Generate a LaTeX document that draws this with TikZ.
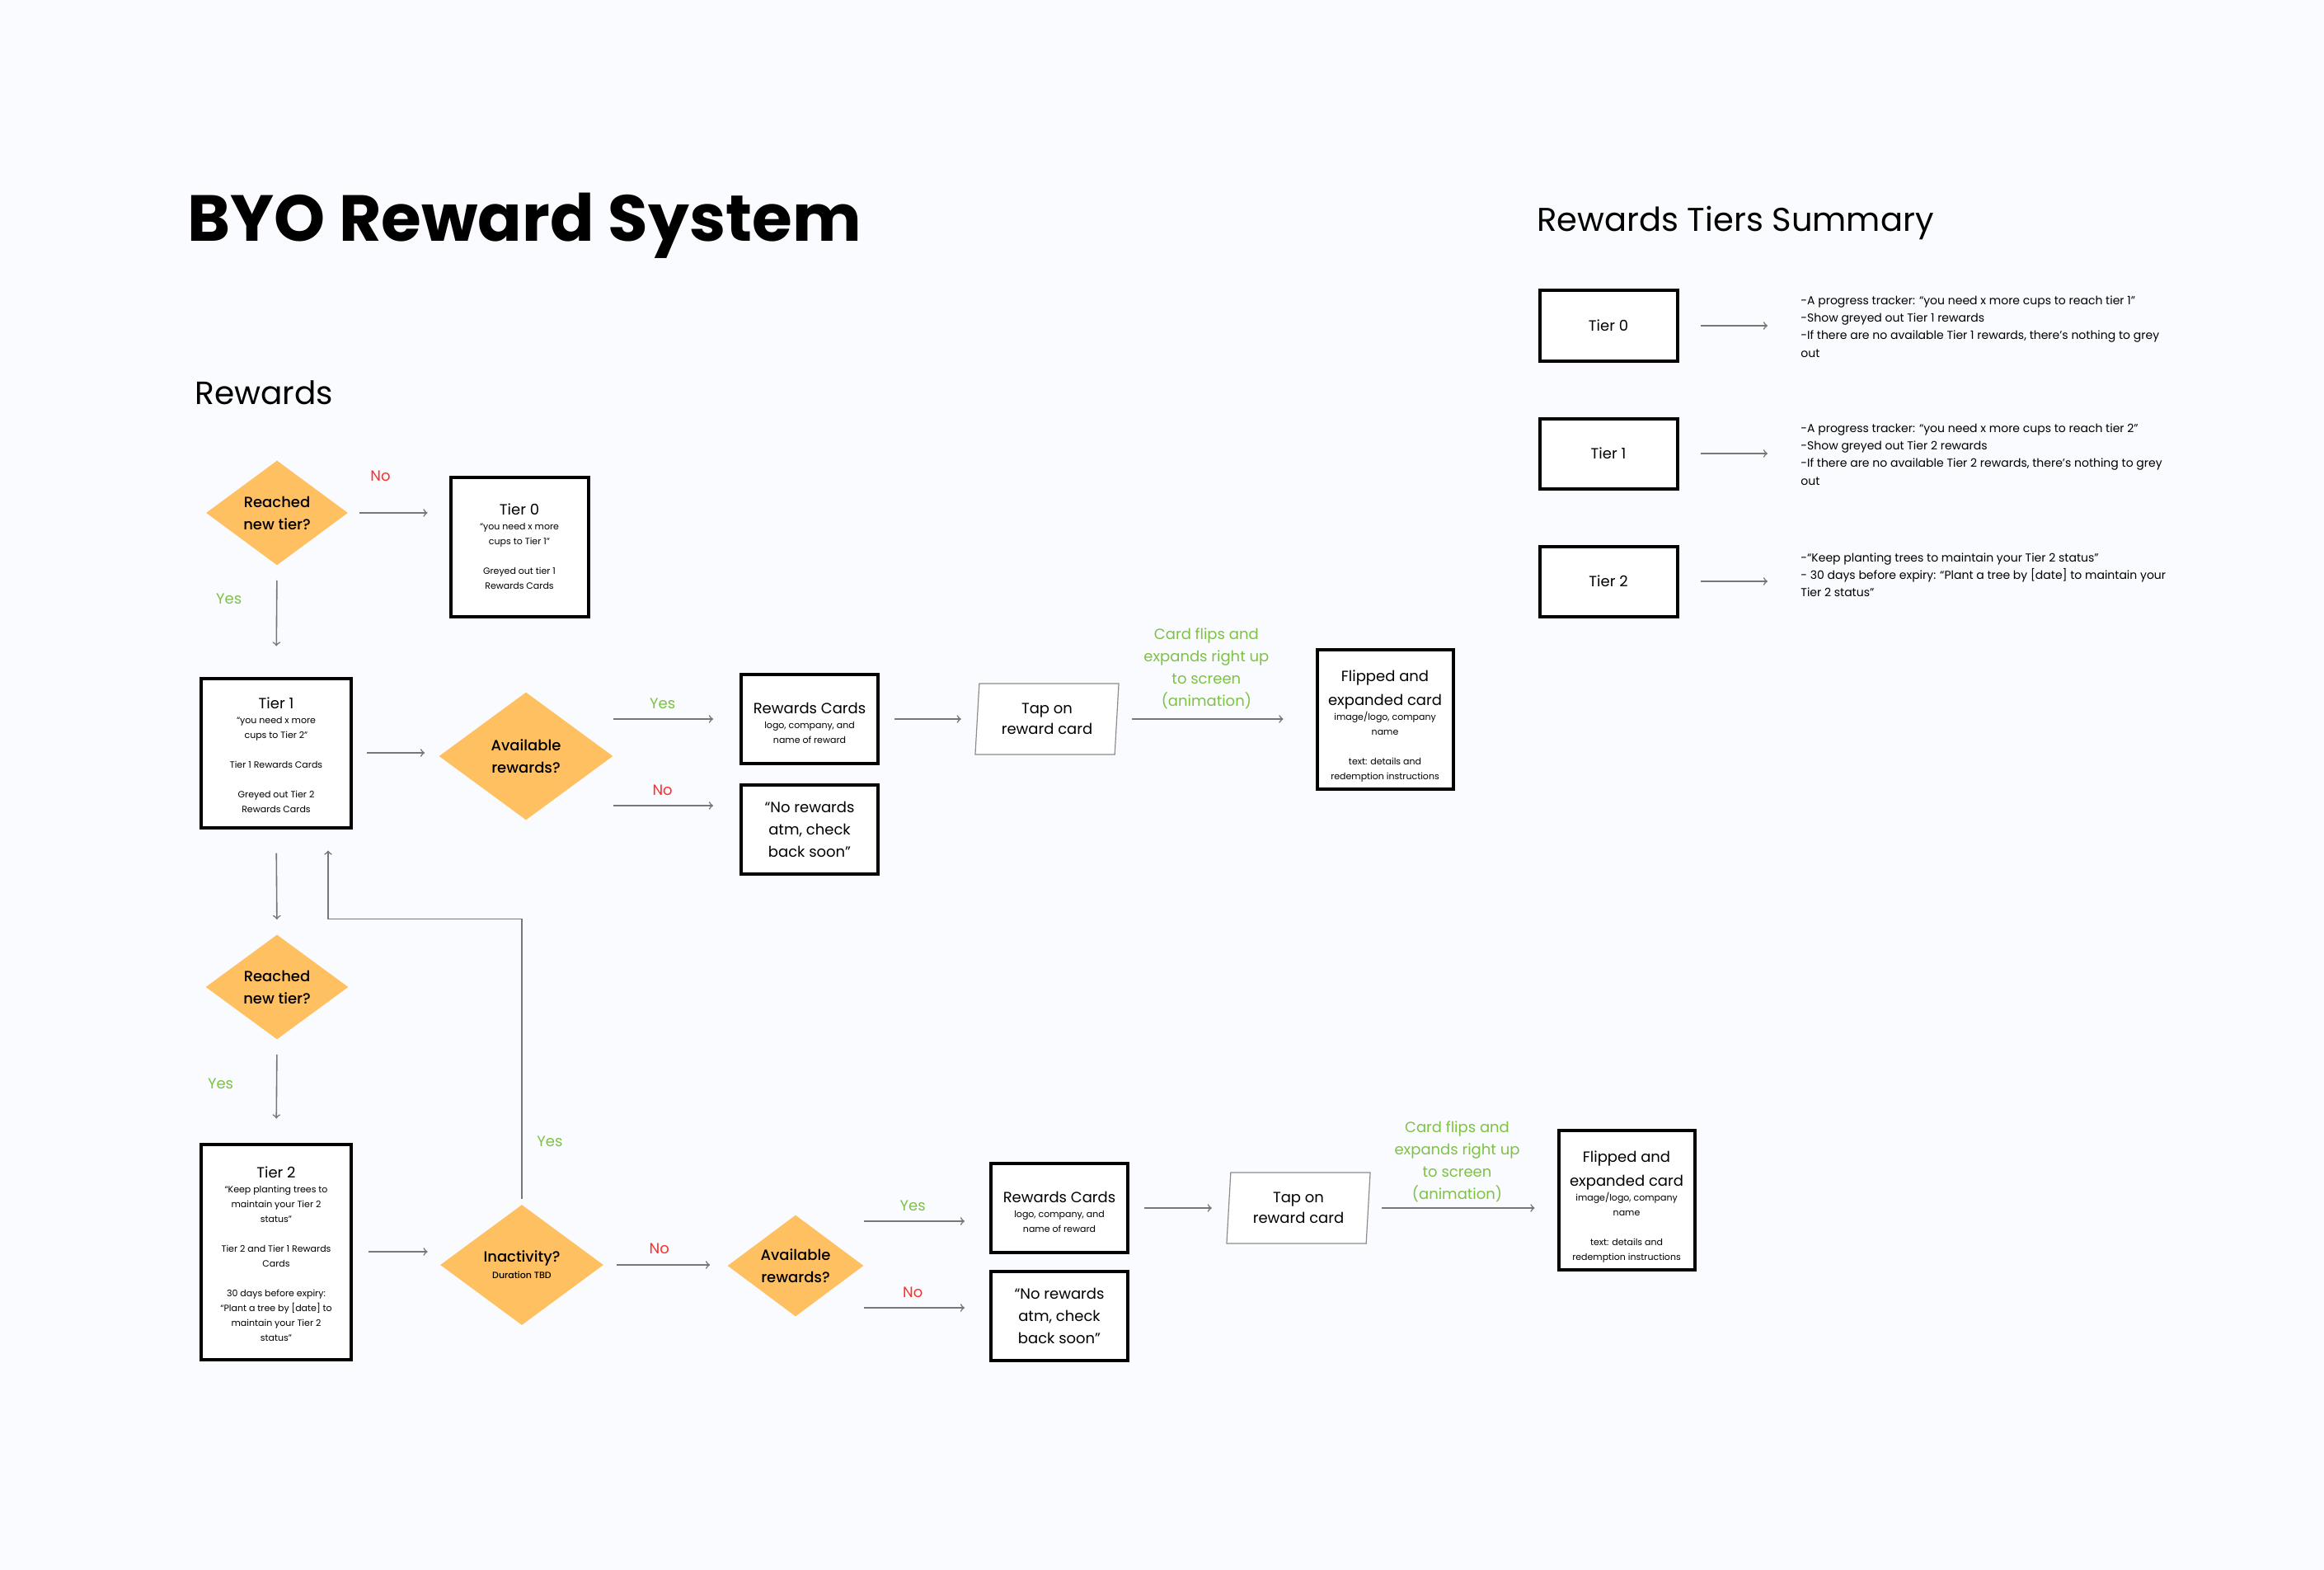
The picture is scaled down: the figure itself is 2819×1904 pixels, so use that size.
\documentclass[tikz,border=0pt]{standalone}
\usepackage{fontspec}
\setmainfont{Poppins}
\newfontfamily\medfont{Poppins Medium}
\usetikzlibrary{arrows, positioning, shapes.geometric, calc}
\definecolor{paper}{HTML}{FAFBFE}
\definecolor{tierorange}{HTML}{FFC062}
\definecolor{yesgreen}{HTML}{7DC243}
\definecolor{nored}{HTML}{FF2D2D}
\definecolor{linegrey}{HTML}{777777}
\definecolor{cardgrey}{HTML}{8C8C8C}
\newcommand{\smalltxt}{\fontsize{5.5}{9}\selectfont}
\tikzset{%
	tierbox/.style={draw, line width=2pt, fill=white, inner sep=0pt, align=flush center,
		text width=80pt, font=\fontsize{9}{13.5}\selectfont},
	rewardcard/.style={tierbox, minimum width=83pt, minimum height=54pt},
	flipcard/.style={tierbox, minimum width=82.5pt, minimum height=84.5pt},
	sumbox/.style={tierbox, minimum width=83.5pt, minimum height=42.5pt},
	tapcard/.style={trapezium, trapezium left angle=85, trapezium right angle=95,
		trapezium stretches=true, draw=cardgrey, line width=0.6pt, fill=white,
		minimum width=87.5pt, minimum height=43pt, inner sep=0pt, align=center,
		font=\fontsize{9}{12.5}\selectfont},
	decision/.style={diamond, aspect=1.35, fill=tierorange, inner sep=0pt, align=center,
		font=\medfont\fontsize{9}{13.5}\selectfont},
	flow/.style={->, draw=linegrey, line width=0.8pt},
	yeslabel/.style={text=yesgreen, inner sep=0pt, font=\fontsize{9}{11}\selectfont},
	nolabel/.style={text=nored, inner sep=0pt, font=\fontsize{9}{11}\selectfont},
	flipnote/.style={text=yesgreen, align=center, inner sep=0pt, font=\fontsize{9}{13.5}\selectfont},
	sumtext/.style={anchor=west, align=left, inner sep=0pt, font=\fontsize{7}{10.6}\selectfont},
	heading/.style={anchor=base west, inner sep=0pt}
}
\begin{document}
\begin{tikzpicture}[x=0.5pt, y=-0.5pt]
	\fill[paper] (0,0) rectangle (2819,1904);
	\useasboundingbox (0,0) rectangle (2819,1904);

	\node[heading, font=\fontsize{39.5}{48}\selectfont\bfseries] (title) at (227,293) {BYO Reward System};
	\node[heading, font=\fontsize{19.5}{24}\selectfont] (head) at (236,490) {Rewards};
	\node[heading, font=\fontsize{20}{26}\selectfont] (sumhead) at (1864,281) {Rewards Tiers Summary};

	% left column
	\node[decision, minimum width=86pt, minimum height=63.5pt] (reach1) at (336,622) {Reached\\ new tier?};
	\node[tierbox, minimum width=83.5pt, minimum height=84.5pt] (tier0) at (630,663)
		{Tier 0\par{\smalltxt “you need x more\\ cups to Tier 1”\\[9pt] Greyed out tier 1\\ Rewards Cards\par}};
	\node[tierbox, minimum width=91pt, minimum height=90.5pt] (tier1) at (335,913)
		{\rule{0pt}{10pt}Tier 1\par{\smalltxt “you need x more\\ cups to Tier 2”\\[9pt] Tier 1 Rewards Cards\\[9pt] Greyed out Tier 2\\ Rewards Cards\par}};
	\node[decision, minimum width=86.5pt, minimum height=63.5pt] (reach2) at (336,1197) {Reached\\ new tier?};
	\node[tierbox, minimum width=91pt, minimum height=130.5pt] (tier2) at (335,1518)
		{\rule{0pt}{10pt}Tier 2\par{\smalltxt “Keep planting trees to\\ maintain your Tier 2\\ status”\\[9pt] Tier 2 and Tier 1 Rewards\\ Cards\\[9pt] 30 days before expiry:\\ “Plant a tree by [date] to\\ maintain your Tier 2\\ status”\par}};

	% tier 1 row
	\node[decision, minimum width=105.5pt, minimum height=77.5pt] (avail1) at (638,917) {Available\\ rewards?};
	\node[rewardcard] (cards1) at (982,872) {\rule{0pt}{12pt}Rewards Cards\par{\smalltxt logo, company, and\\ name of reward\par}};
	\node[rewardcard] (empty1) at (982,1006) {“No rewards\\ atm, check\\ back soon”};
	\node[tapcard] (tap1) at (1270,872) {Tap on\\ reward card};
	\node[flipcard] (flip1) at (1680,872)
		{\rule{0pt}{15pt}Flipped and\\[1pt] expanded card\par{\smalltxt image/logo, company\\ name\\[9pt] text: details and\\ redemption instructions\par}};

	% tier 2 row
	\node[decision, minimum width=99pt, minimum height=73pt] (inact) at (633,1534) {Inactivity?\\[-3.5pt] {\smalltxt Duration TBD}};
	\node[decision, minimum width=82.5pt, minimum height=61.5pt] (avail2) at (965,1535) {Available\\ rewards?};
	\node[rewardcard] (cards2) at (1285,1465) {\rule{0pt}{12pt}Rewards Cards\par{\smalltxt logo, company, and\\ name of reward\par}};
	\node[rewardcard] (empty2) at (1285,1596) {“No rewards\\ atm, check\\ back soon”};
	\node[tapcard] (tap2) at (1575,1465) {Tap on\\ reward card};
	\node[flipcard] (flip2) at (1973,1455)
		{\rule{0pt}{15pt}Flipped and\\[1pt] expanded card\par{\smalltxt image/logo, company\\ name\\[9pt] text: details and\\ redemption instructions\par}};

	% summary
	\node[sumbox] (sum0) at (1951,395) {Tier 0};
	\node[sumbox] (sum1) at (1951,550) {Tier 1};
	\node[sumbox] (sum2) at (1951,705) {Tier 2};
	\node[sumtext] (sumtext0) at (2184,396) {-A progress tracker: “you need x more cups to reach tier 1”\\ -Show greyed out Tier 1 rewards\\ -If there are no available Tier 1 rewards, there’s nothing to grey\\ out};
	\node[sumtext] (sumtext1) at (2184,551) {-A progress tracker: “you need x more cups to reach tier 2”\\ -Show greyed out Tier 2 rewards\\ -If there are no available Tier 2 rewards, there’s nothing to grey\\ out};
	\node[sumtext] (sumtext2) at (2184,697) {-“Keep planting trees to maintain your Tier 2 status”\\ - 30 days before expiry: “Plant a tree by [date] to maintain your\\ Tier 2 status”};

	\draw[flow, shorten <=7pt, shorten >=13pt] (reach1.east) to node[nolabel, pos=0.32, yshift=22.5pt] (no1) {No} (reach1.east -| tier0.west);
	\draw[flow, shorten <=9pt, shorten >=18.5pt] (reach1.south) to node[yeslabel, pos=0.30, xshift=-29pt] (yes1) {Yes} (tier1.north);
	\draw[flow, shorten <=8.5pt, shorten >=8.5pt] (tier1.east) to (tier1.east -| avail1.west);
	\draw[flow, shorten >=16pt] (avail1.east |- cards1.west) to node[yeslabel, pos=0.39, yshift=9.5pt] (yes2) {Yes} (cards1.west);
	\draw[flow, shorten >=16pt] ([yshift=-30pt]avail1.east) to node[nolabel, pos=0.39, yshift=9.5pt] (no2) {No} ([yshift=-30pt]avail1.east -| empty1.west);
	\draw[flow, shorten <=9pt, shorten >=9.5pt] (cards1.east) to (tap1.west);
	\draw[flow, shorten <=9pt, shorten >=19.5pt] (tap1.east) to node[flipnote, pos=0.45, yshift=30.5pt] (note1) {Card flips and\\ expands right up\\ to screen\\ (animation)} (tap1.east -| flip1.west);

	\draw[flow, shorten <=14.5pt, shorten >=9pt] (tier1.south) to (reach2.north);
	\draw[flow, shorten <=9pt, shorten >=14.5pt] (reach2.south) to node[yeslabel, pos=0.43, xshift=-34pt] (yes3) {Yes} (tier2.north);
	\draw[flow, shorten <=9.5pt, shorten >=7.5pt] (tier2.east) to (tier2.east -| inact.west);
	\draw[flow, shorten <=3.5pt, shorten >=13pt] (inact.north) |- node[yeslabel, pos=0.11, xshift=17pt] (yes4) {Yes} ([xshift=31.5pt, yshift=-54.5pt]tier1.south) -- ([xshift=31.5pt]tier1.south);
	\draw[flow, shorten <=8pt, shorten >=10.5pt] (inact.east) to node[nolabel, pos=0.45, yshift=10pt] (no3) {No} (inact.east -| avail2.west);
	\draw[flow, shorten >=15pt] ([yshift=27pt]avail2.east) to node[yeslabel, pos=0.39, yshift=9.5pt] (yes5) {Yes} ([yshift=27pt]avail2.east -| cards2.west);
	\draw[flow, shorten >=15pt] ([yshift=-25.5pt]avail2.east) to node[nolabel, pos=0.39, yshift=9.5pt] (no4) {No} ([yshift=-25.5pt]avail2.east -| empty2.west);
	\draw[flow, shorten <=9pt, shorten >=10pt] (cards2.east) to (tap2.west);
	\draw[flow, shorten <=8pt, shorten >=13.5pt] (tap2.east) to node[flipnote, pos=0.47, yshift=28pt] (note2) {Card flips and\\ expands right up\\ to screen\\ (animation)} (tap2.east -| flip2.west);

	\draw[flow, shorten <=13pt, shorten >=20pt] (sum0.east) to (sum0.east -| sumtext0.west);
	\draw[flow, shorten <=13pt, shorten >=20pt] (sum1.east) to (sum1.east -| sumtext1.west);
	\draw[flow, shorten <=13pt, shorten >=20pt] (sum2.east) to (sum2.east -| sumtext2.west);
\end{tikzpicture}
\end{document}
